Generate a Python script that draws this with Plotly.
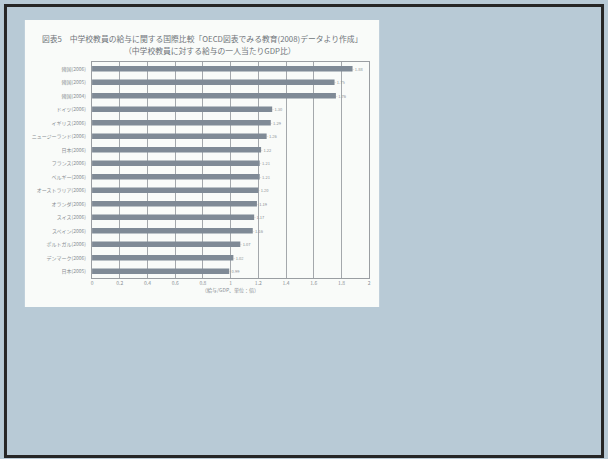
import plotly.graph_objects as go

W, H = 608, 459

categories = ["韓国(2006)", "韓国(2005)", "韓国(2004)", "ドイツ(2006)", "イギリス(2006)",
              "ニュージーランド(2006)", "日本(2006)", "フランス(2006)", "ベルギー(2006)",
              "オーストラリア(2006)", "オランダ(2006)", "スイス(2006)", "スペイン(2006)",
              "ポルトガル(2006)", "デンマーク(2006)", "日本(2005)"]
values = [1.88, 1.75, 1.76, 1.30, 1.29, 1.26, 1.22, 1.21, 1.21, 1.20, 1.19, 1.17, 1.16, 1.07, 1.02, 0.99]
value_labels = ["1.88", "1.75", "1.76", "1.30", "1.29", "1.26", "1.22", "1.21", "1.21", "1.20",
                "1.19", "1.17", "1.16", "1.07", "1.02", "0.99"]
x_ticks = [0, 0.2, 0.4, 0.6, 0.8, 1, 1.2, 1.4, 1.6, 1.8, 2]
x_tick_labels = ["0", "0.2", "0.4", "0.6", "0.8", "1", "1.2", "1.4", "1.6", "1.8", "2"]
title_line1 = "図表5　中学校教員の給与に関する国際比較「OECD図表でみる教育(2008)データより作成」"
title_line2 = "（中学校教員に対する給与の一人当たりGDP比）"
x_title = "（給与/GDP、単位：倍）"

FONT = "Noto Sans CJK JP"
TXT = "#8a8f94"

def px(x):
    return x / W

def py(y):
    return 1 - y / H

fig = go.Figure(go.Bar(
    x=values, y=categories, orientation="h",
    marker=dict(color="#7f8a96", line=dict(width=0)),
    text=["- " + t for t in value_labels], textposition="outside",
    textfont=dict(size=5, color=TXT, family=FONT),
    cliponaxis=False,
))

fig.update_layout(
    width=W, height=H,
    margin=dict(l=0, r=0, t=0, b=0),
    paper_bgcolor="#b8cad6",
    plot_bgcolor="rgba(255,255,255,0)",
    showlegend=False,
    bargap=0.58,
    xaxis=dict(
        domain=[px(91.5), px(370)], range=[0, 2],
        tickvals=x_ticks, ticktext=x_tick_labels,
        tickfont=dict(size=5, color=TXT, family=FONT),
        showgrid=True, gridcolor="#a4a8ac", gridwidth=1,
        showline=True, linecolor="#9a9ea2", linewidth=1, mirror=True,
        zeroline=False, ticks="",
        title=dict(text=x_title, font=dict(size=5, color=TXT, family=FONT), standoff=2),
    ),
    yaxis=dict(
        domain=[py(278), py(62)], autorange="reversed",
        tickfont=dict(size=5, color=TXT, family=FONT),
        showgrid=False, showline=True, linecolor="#9a9ea2", linewidth=1, mirror=True,
        ticks="", ticklabelstandoff=4,
    ),
    shapes=[
        dict(type="rect", xref="paper", yref="paper", layer="below",
             x0=px(24), x1=px(380), y0=py(307), y1=py(20),
             fillcolor="#f9fbf9", line=dict(width=0)),
        dict(type="rect", xref="paper", yref="paper", layer="above",
             x0=px(4.5), x1=px(604.5), y0=py(456.5), y1=py(5.5),
             fillcolor="rgba(0,0,0,0)", line=dict(color="#262626", width=3)),
    ],
    annotations=[
        dict(text=title_line1, xref="paper", yref="paper", x=px(202), y=py(38),
             xanchor="center", yanchor="middle",
             showarrow=False, font=dict(size=7.8, color="#70757a", family=FONT)),
        dict(text=title_line2, xref="paper", yref="paper", x=px(210), y=py(50),
             xanchor="center", yanchor="middle",
             showarrow=False, font=dict(size=7.8, color="#70757a", family=FONT)),
    ],
)

fig.write_html("out.html", config={"displayModeBar": False},
               post_script="document.body.style.margin='0';document.body.style.overflow='hidden';")
